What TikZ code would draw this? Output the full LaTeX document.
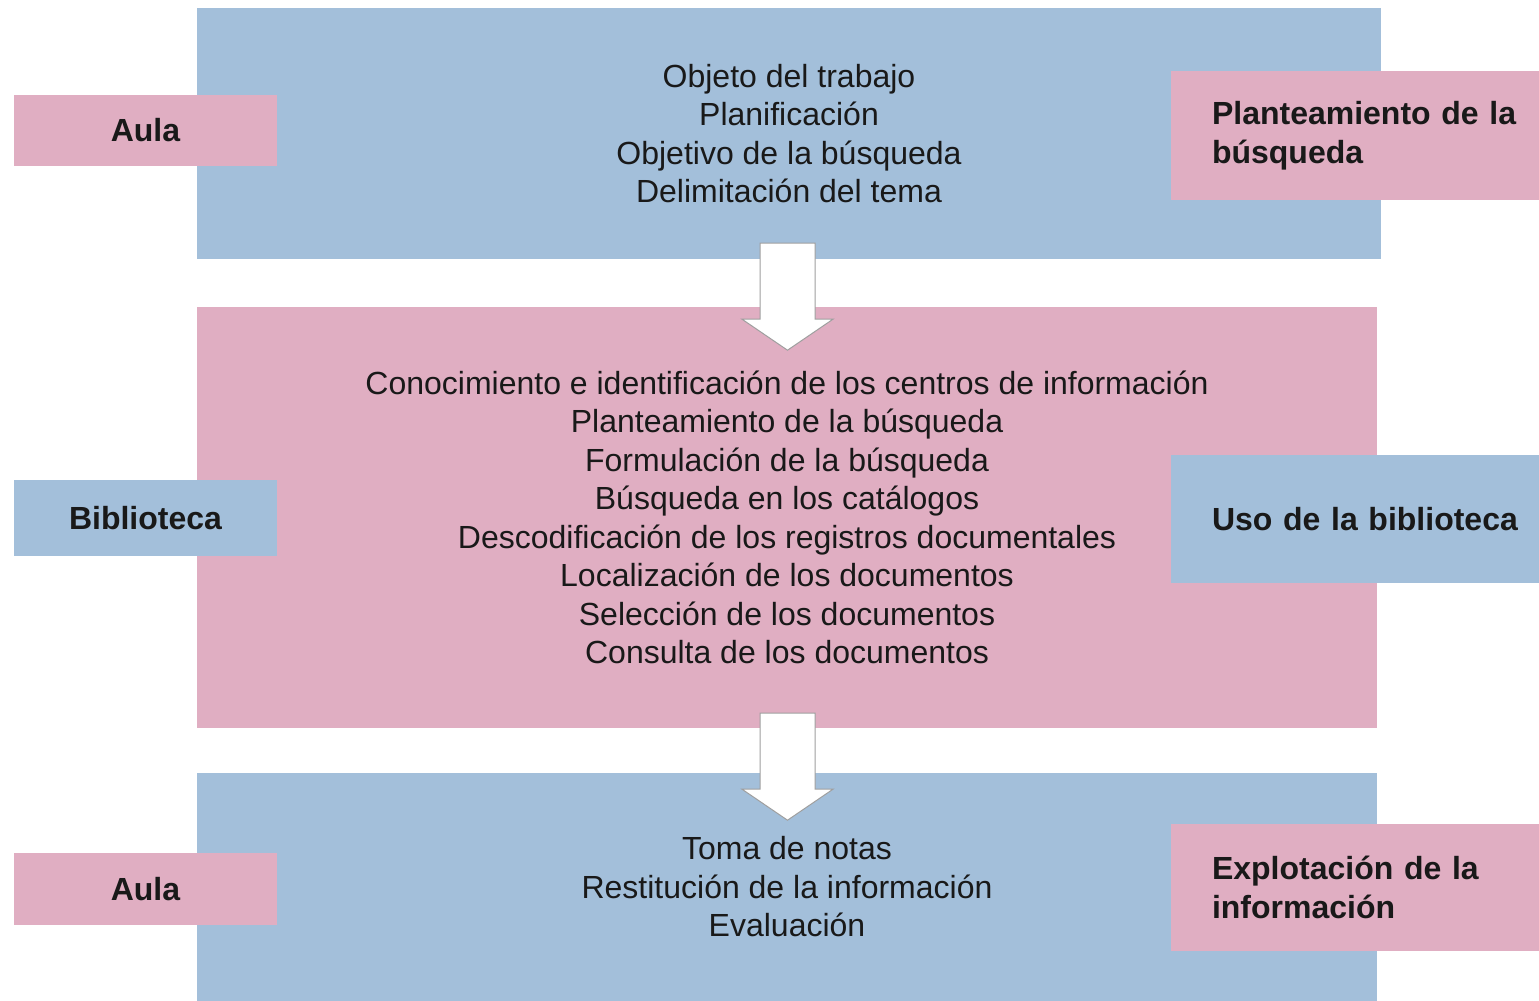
\documentclass[tikz,border=0pt]{standalone}
\usepackage{fontspec}
\setmainfont{Liberation Sans}
\definecolor{azul}{RGB}{163,191,218}
\definecolor{rosa}{RGB}{224,174,194}

\begin{document}
\begin{tikzpicture}
    [
    x=1pt,y=-1pt,
    every node/.style={font=\fontsize{32}{38.5}\selectfont,text=black!90},
    bloque/.style={rectangle,inner sep=0pt,align=center},
    lado/.style={rectangle,inner sep=0pt,minimum width=263pt,font=\fontsize{32}{38.5}\selectfont\bfseries},
    etiqueta/.style={rectangle,inner xsep=41pt,inner ysep=0pt,text width=310pt,align=left,font=\fontsize{32}{38.5}\selectfont\bfseries},
    flecha/.style={fill=white,draw=gray!75,line width=1pt}
    ]
\useasboundingbox (0,0) rectangle (1539,1001);
% bloques
\node[bloque,fill=azul,minimum width=1184pt,minimum height=251pt] (obj) at (789,133.5)
    {Objeto del trabajo\\Planificación\\Objetivo de la búsqueda\\Delimitación del tema};
\node[bloque,fill=rosa,minimum width=1180pt,minimum height=421pt] (con) at (787,517.5)
    {Conocimiento e identificación de los centros de información\\Planteamiento de la búsqueda\\
     Formulación de la búsqueda\\Búsqueda en los catálogos\\Descodificación de los registros documentales\\
     Localización de los documentos\\Selección de los documentos\\Consulta de los documentos};
\node[bloque,fill=azul,minimum width=1180pt,minimum height=228pt] (toma) at (787,887)
    {Toma de notas\\Restitución de la información\\Evaluación};
% izquierda
\node[lado,fill=rosa,minimum height=71pt] (aula1) at (145.5,130.5) {Aula};
\node[lado,fill=azul,minimum height=76pt] (bib) at (145.5,518) {Biblioteca};
\node[lado,fill=rosa,minimum height=72pt] (aula2) at (145.5,889) {Aula};
% derecha
\node[etiqueta,fill=rosa,minimum height=129pt] (plan) at (1367,135.5) {Planteamiento de la\\búsqueda};
\node[etiqueta,fill=azul,minimum height=128pt] (uso) at (1367,519) {Uso de la biblioteca};
\node[etiqueta,fill=rosa,minimum height=127pt] (expl) at (1367,887.5) {Explotación de la\\información};
% flechas
\coordinate (f1) at ([xshift=-1.5pt,yshift=16pt]obj.south);
\coordinate (f2) at ([xshift=0.5pt,yshift=15pt]con.south);
\draw[flecha] (f1) ++(-27.5,0) -- ++(0,76) -- ++(-18,0) -- ++(45.5,31) -- ++(45.5,-31) -- ++(-18,0) -- ++(0,-76) -- cycle;
\draw[flecha] (f2) ++(-27.5,0) -- ++(0,76) -- ++(-18,0) -- ++(45.5,31) -- ++(45.5,-31) -- ++(-18,0) -- ++(0,-76) -- cycle;
\end{tikzpicture}
\end{document}
